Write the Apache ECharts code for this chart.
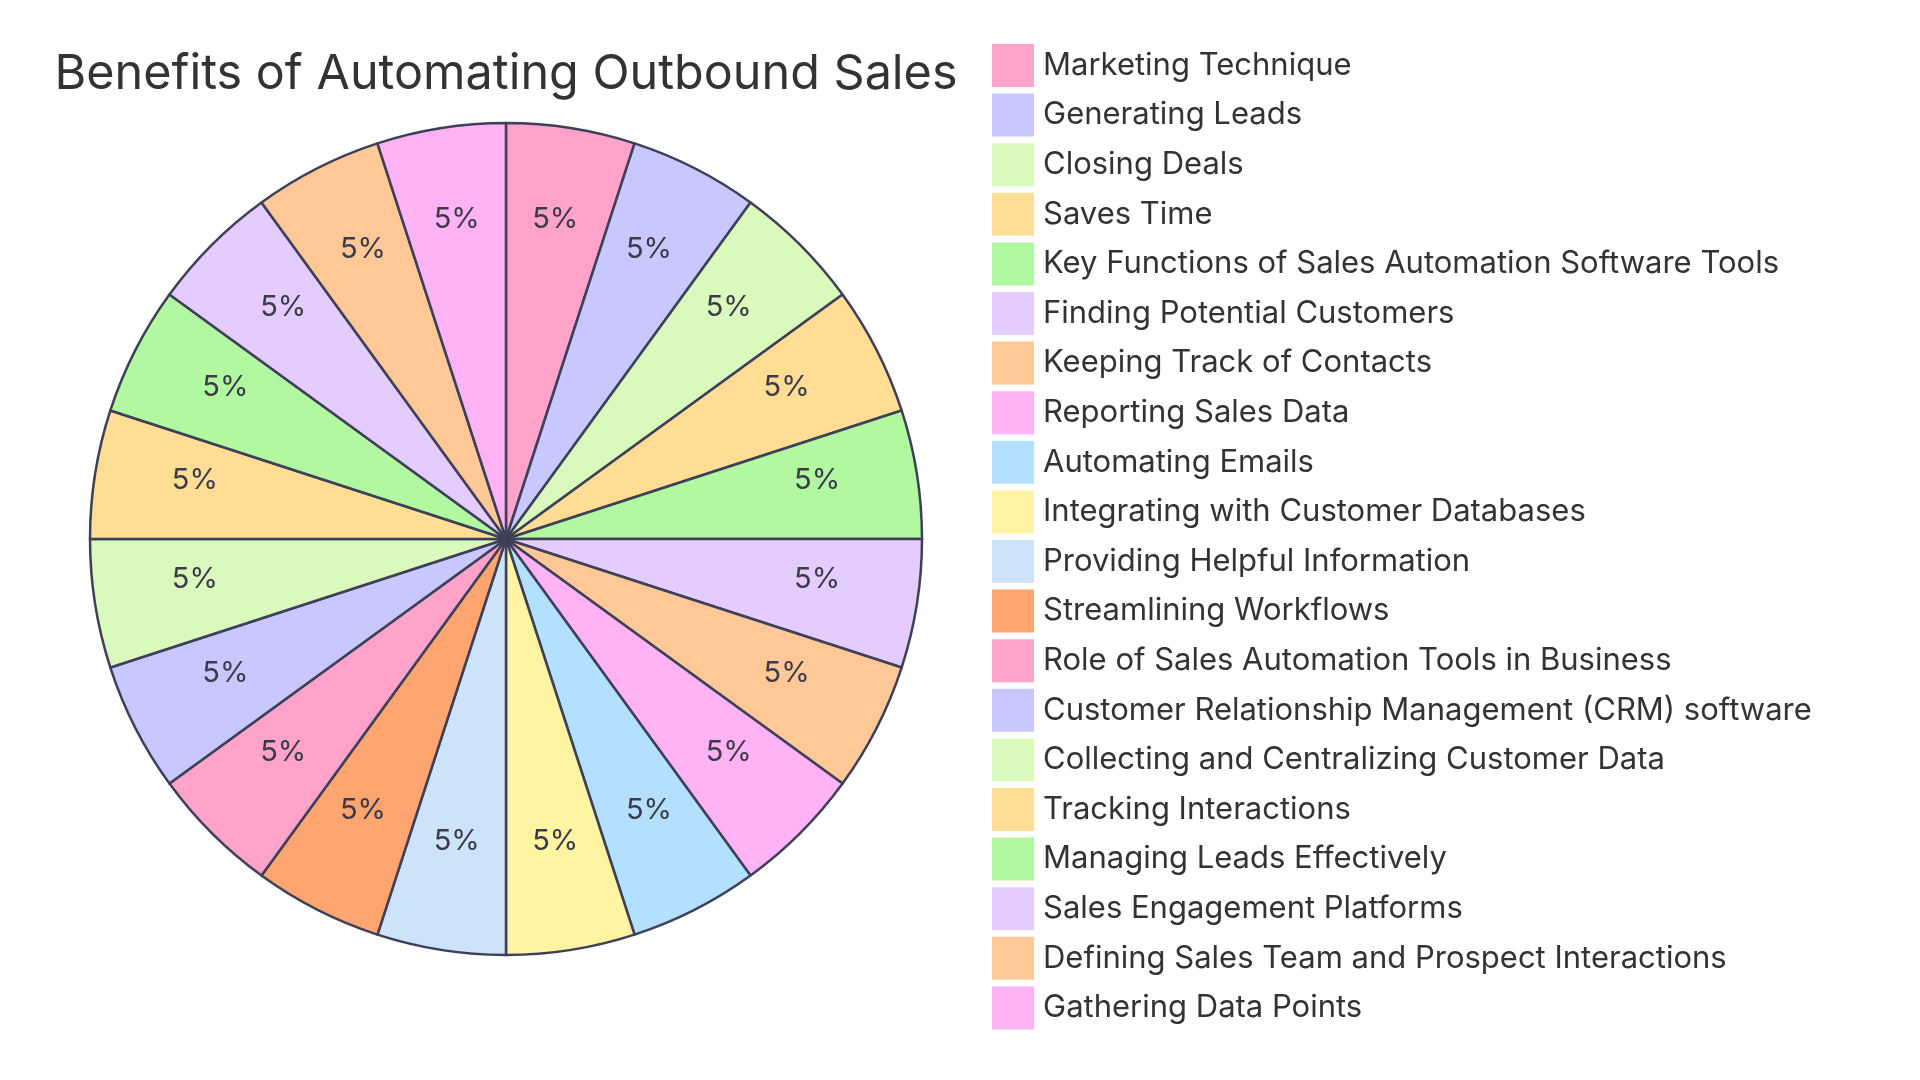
<!DOCTYPE html>
<html><head><meta charset="utf-8">
<script src="https://cdn.jsdelivr.net/npm/echarts@6/dist/echarts.min.js"></script>
<style>html,body{margin:0;padding:0;background:#fff}#c{width:1920px;height:1080px}</style>
</head><body><div id="c"></div>
<script>
const categories = [
  "Marketing Technique","Generating Leads","Closing Deals","Saves Time",
  "Key Functions of Sales Automation Software Tools","Finding Potential Customers",
  "Keeping Track of Contacts","Reporting Sales Data","Automating Emails",
  "Integrating with Customer Databases","Providing Helpful Information",
  "Streamlining Workflows","Role of Sales Automation Tools in Business",
  "Customer Relationship Management (CRM) software","Collecting and Centralizing Customer Data",
  "Tracking Interactions","Managing Leads Effectively","Sales Engagement Platforms",
  "Defining Sales Team and Prospect Interactions","Gathering Data Points"
];
const values = [5,5,5,5,5,5,5,5,5,5,5,5,5,5,5,5,5,5,5,5];
const colors = ["#FFA3CB","#C8C8FF","#DAF9BC","#FFDD94","#B1F8A0","#E5CCFF","#FFC896","#FFB3F5",
  "#B4E0FF","#FFF4A1","#CDE3FA","#FFA56F","#FFA3CB","#C8C8FF","#DAF9BC","#FFDD94","#B1F8A0","#E5CCFF","#FFC896","#FFB3F5"];
const title = "Benefits of Automating Outbound Sales";

const total = values.reduce((a,b)=>a+b,0);
const data = categories.map((n,i)=>({name:n,value:values[i],itemStyle:{color:colors[i]}}));
const chart = echarts.init(document.getElementById('c'), null, {renderer:'canvas'});
const FONT = 'Inter, "Noto Sans", sans-serif';
chart.setOption({
  animation:false,
  title:{text:title,left:506,top:74,textAlign:'center',textVerticalAlign:'middle',padding:0,
    textStyle:{fontFamily:FONT,fontSize:48.5,fontWeight:'normal',color:'#333'}},
  legend:{orient:'vertical',left:992,top:44,padding:0,itemWidth:42,itemHeight:43,itemGap:6.6,icon:'rect',
    data:categories,selectedMode:false,
    itemStyle:{borderWidth:0},
    textStyle:{fontFamily:FONT,fontSize:31,color:'#333',padding:[0,0,0,4]}},
  series:[
    {type:'pie',center:[506,539],radius:[0,416],startAngle:90,clockwise:true,
     data:data,silent:true,label:{show:false},labelLine:{show:false},
     itemStyle:{borderColor:'#3d4058',borderWidth:2.5}},
    {type:'pie',center:[506,539],radius:[208,416],startAngle:90,clockwise:true,silent:true,
     data:categories.map((n,i)=>({name:n,value:values[i],itemStyle:{color:'rgba(0,0,0,0)',borderWidth:0}})),
     label:{show:true,position:'inside',offset:[0,-9],formatter:p=>Math.round(p.value/total*100)+'%',
       fontFamily:FONT,fontSize:29,color:'#3a3a4a'},labelLine:{show:false}}
  ]
});
</script></body></html>
